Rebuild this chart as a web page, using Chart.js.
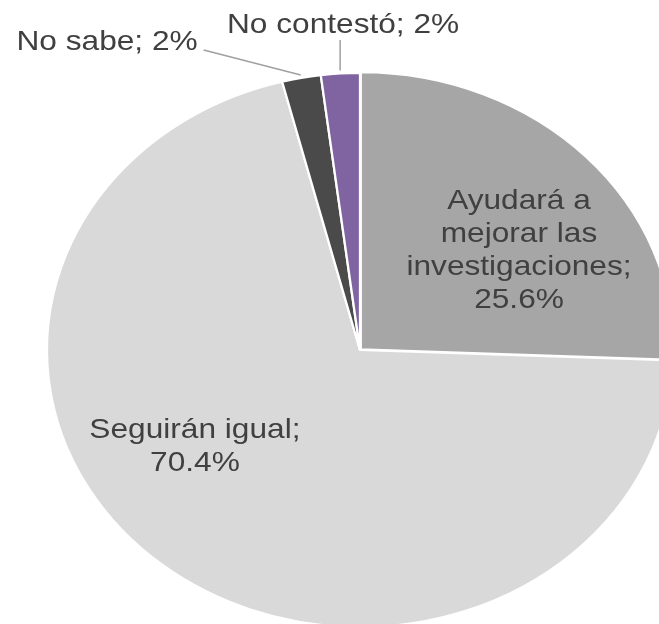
<!DOCTYPE html>
<html>
<head>
<meta charset="utf-8">
<script src="https://cdn.jsdelivr.net/npm/chart.js@4/dist/chart.umd.min.js"></script>
<style>
    html, body { margin: 0; padding: 0; background: #fff; overflow: hidden; }
    #wrap { position: absolute; left: 0; top: 0; width: 720px; height: 720px; }
</style>
</head>
<body>
<div id="wrap"><canvas id="pie"></canvas></div>
<script>
// Données du graphique
const categories = ['Ayudará a mejorar las investigaciones', 'Seguirán igual', 'No sabe', 'No contestó'];
const values = [25.6, 70.4, 2, 2];
const valueLabels = ['25.6%', '70.4%', '2%', '2%'];
const labelLines = [
    ['Ayudará a', 'mejorar las', 'investigaciones;', '25.6%'],
    ['Seguirán igual;', '70.4%'],
    ['No sabe; 2%'],
    ['No contestó; 2%']
];
const colors = ['#a6a6a6', '#d9d9d9', '#4a4a4a', '#8064a2'];

// L'image d'origine est étirée horizontalement
const STRETCH = 1.13;
const RADIUS = 277;

// Position des étiquettes (en unités de rayon, par rapport au centre)
const labelPos = [
    { dx: 0.574, dy: -0.509, leader: null },
    { dx: -0.596, dy: 0.318, leader: null },
    { dx: -0.913, dy: -1.083, leader: 'side' },
    { dx: -0.061, dy: -1.144, leader: 'below' }
];

// Étire les secteurs autour du centre
const stretchPlugin = {
    id: 'stretch',
    beforeDatasetsDraw(chart) {
        const arc = chart.getDatasetMeta(0).data[0];
        const ctx = chart.ctx;
        ctx.save();
        ctx.translate(arc.x, 0);
        ctx.scale(STRETCH, 1);
        ctx.translate(-arc.x, 0);
    },
    afterDatasetsDraw(chart) {
        chart.ctx.restore();
    }
};

// Étiquettes et lignes de rappel
const labelPlugin = {
    id: 'sliceLabels',
    afterDraw(chart) {
        const ctx = chart.ctx;
        const arcs = chart.getDatasetMeta(0).data;
        const cx = arcs[0].x;
        const cy = arcs[0].y;
        const R = arcs[0].outerRadius;
        ctx.save();
        ctx.font = '28px "Liberation Sans", Arial, sans-serif';
        ctx.fillStyle = '#404040';
        ctx.textAlign = 'center';
        ctx.textBaseline = 'alphabetic';

        arcs.forEach((arc, i) => {
            const pos = labelPos[i];
            const x = cx + pos.dx * R;
            const y = cy + pos.dy * R;
            labelLines[i].forEach((line, j) => {
                ctx.save();
                ctx.translate(x, y + j * 33);
                ctx.scale(STRETCH, 1);
                ctx.fillText(line, 0, 0);
                ctx.restore();
            });

            if (pos.leader) {
                const mid = (arc.startAngle + arc.endAngle) / 2;
                const ex = cx + Math.cos(mid) * (R + 3) * STRETCH;
                const ey = cy + Math.sin(mid) * (R + 3);
                let sx, sy;
                if (pos.leader === 'side') {
                    const w = ctx.measureText(labelLines[i][0]).width * STRETCH;
                    sx = x + w / 2 + 6;
                    sy = y;
                } else {
                    sx = ex;
                    sy = y + 7;
                }
                ctx.strokeStyle = '#a0a0a0';
                ctx.lineWidth = 1.5;
                ctx.beginPath();
                ctx.moveTo(sx, sy);
                ctx.lineTo(ex, ey);
                ctx.stroke();
            }
        });
        ctx.restore();
    }
};

const ctx = document.getElementById('pie').getContext('2d');
new Chart(ctx, {
    type: 'pie',
    data: {
        labels: categories,
        datasets: [{
            data: values,
            backgroundColor: colors,
            borderColor: '#ffffff',
            borderWidth: 2,
            offset: [4, 0, 0, 0]
        }]
    },
    options: {
        responsive: true,
        maintainAspectRatio: false,
        animation: false,
        radius: RADIUS,
        layout: {
            padding: { left: 83, top: 73, right: 83, bottom: 93 }
        },
        plugins: {
            legend: { display: false },
            tooltip: { enabled: false }
        }
    },
    plugins: [stretchPlugin, labelPlugin]
});
</script>
</body>
</html>
